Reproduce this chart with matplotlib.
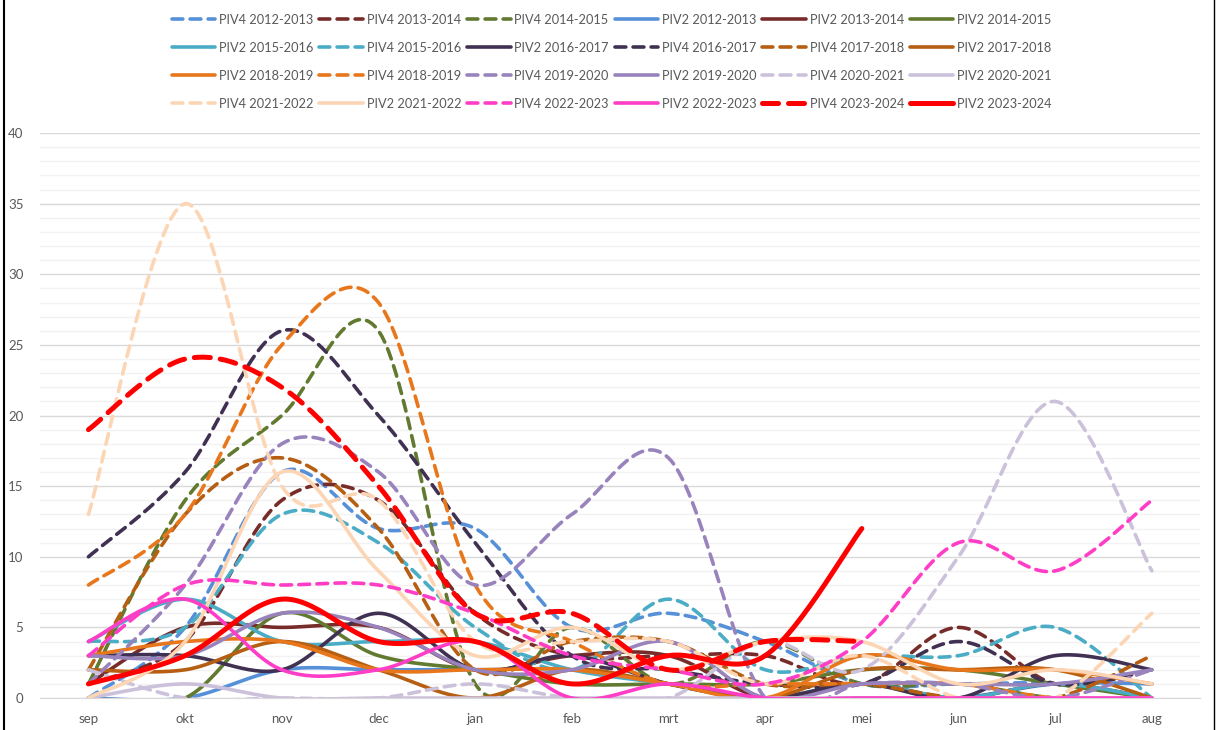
import numpy as np
import matplotlib
matplotlib.use('Agg')
import matplotlib.pyplot as plt
from matplotlib.lines import Line2D

plt.rcParams['font.family'] = ['Lato', 'DejaVu Sans']

months = ['sep', 'okt', 'nov', 'dec', 'jan', 'feb', 'mrt', 'apr', 'mei', 'jun', 'jul', 'aug']

# values, sep..aug
piv4_1213 = [0, 5, 16, 12, 12, 5, 6, 4, 1, 1, 1, 0]
piv4_1314 = [1, 4, 14, 14, 6, 3, 3, 3, 1, 5, 1, 2]
piv4_1415 = [1, 14, 20, 26, 1, 5, 1, 4, 1, 1, 0, 0]
piv2_1213 = [0, 0, 2, 2, 2, 2, 1, 0, 0, 0, 1, 1]
piv2_1314 = [1, 5, 5, 5, 2, 3, 3, 0, 1, 0, 1, 0]
piv2_1415 = [0, 0, 6, 3, 2, 1, 1, 1, 2, 2, 1, 0]
piv2_1516 = [4, 7, 4, 4, 4, 2, 1, 0, 1, 0, 1, 0]
piv4_1516 = [4, 5, 13, 11, 5, 2, 7, 2, 3, 3, 5, 0]
piv2_1617 = [3, 3, 2, 6, 2, 3, 1, 0, 1, 0, 3, 2]
piv4_1617 = [10, 16, 26, 20, 11, 3, 2, 1, 1, 4, 1, 2]
piv4_1718 = [2, 13, 17, 12, 2, 4, 4, 1, 1, 0, 0, 3]
piv2_1718 = [2, 2, 4, 2, 0, 2, 1, 0, 2, 2, 2, 0]
piv2_1819 = [3, 4, 4, 2, 2, 2, 1, 0, 3, 2, 2, 1]
piv4_1819 = [8, 13, 25, 28, 8, 4, 1, 1, 1, 1, 0, 0]
piv4_1920 = [1, 8, 18, 16, 8, 13, 17, 0, 1, 1, 0, 2]
piv2_1920 = [3, 3, 6, 5, 2, 2, 4, 0, 1, 1, 1, 2]
piv4_2021 = [2, 0, 0, 0, 1, 0, 0, 4, 2, 10, 21, 9]
piv2_2021 = [0, 1, 0, 0, 0, 0, 0, 0, 0, 0, 0, 0]
piv4_2122 = [13, 35, 15, 14, 4, 4, 4, 1, 3, 0, 0, 6]
piv2_2122 = [0, 4, 16, 9, 3, 5, 2, 4, 4, 1, 2, 1]
piv4_2223 = [3, 8, 8, 8, 6, 3, 2, 1, 4, 11, 9, 14]
piv2_2223 = [4, 7, 2, 2, 4, 0, 1, 0, 0, 0, 0, 0]
piv4_2324 = [19, 24, 22, 15, 6, 6, 2, 4, 4]
piv2_2324 = [1, 3, 7, 4, 4, 1, 3, 3, 12]

colors = {'2012-2013': '#5690D8', '2013-2014': '#772C2A', '2014-2015': '#617A30',
          '2015-2016': '#4BACC6', '2016-2017': '#403152', '2017-2018': '#B65E12',
          '2018-2019': '#E8761B', '2019-2020': '#9983BC', '2020-2021': '#CCC1DA',
          '2021-2022': '#FCD5B4', '2022-2023': '#FF3DC6', '2023-2024': '#FF0000'}

# legend / drawing order (row-major as in the reference)
series = [('PIV4 2012-2013', piv4_1213), ('PIV4 2013-2014', piv4_1314), ('PIV4 2014-2015', piv4_1415),
          ('PIV2 2012-2013', piv2_1213), ('PIV2 2013-2014', piv2_1314), ('PIV2 2014-2015', piv2_1415),
          ('PIV2 2015-2016', piv2_1516), ('PIV4 2015-2016', piv4_1516), ('PIV2 2016-2017', piv2_1617),
          ('PIV4 2016-2017', piv4_1617), ('PIV4 2017-2018', piv4_1718), ('PIV2 2017-2018', piv2_1718),
          ('PIV2 2018-2019', piv2_1819), ('PIV4 2018-2019', piv4_1819), ('PIV4 2019-2020', piv4_1920),
          ('PIV2 2019-2020', piv2_1920), ('PIV4 2020-2021', piv4_2021), ('PIV2 2020-2021', piv2_2021),
          ('PIV4 2021-2022', piv4_2122), ('PIV2 2021-2022', piv2_2122), ('PIV4 2022-2023', piv4_2223),
          ('PIV2 2022-2023', piv2_2223), ('PIV4 2023-2024', piv4_2324), ('PIV2 2023-2024', piv2_2324)]


def smooth(y, n=30):
    """Excel-like smoothed line: cubic Bezier with Catmull-Rom control points."""
    y = np.asarray(y, float); x = np.arange(len(y), dtype=float)
    P = np.column_stack([x, y]); m = len(P)
    out = [P[:1]]
    t = np.linspace(0, 1, n)[1:, None]
    for i in range(m - 1):
        p0 = P[max(i - 1, 0)]; p1 = P[i]; p2 = P[i + 1]; p3 = P[min(i + 2, m - 1)]
        c1 = p1 + (p2 - p0) / 6; c2 = p2 - (p3 - p1) / 6
        seg = (1 - t) ** 3 * p1 + 3 * (1 - t) ** 2 * t * c1 + 3 * (1 - t) * t ** 2 * c2 + t ** 3 * p2
        out.append(seg)
    S = np.vstack(out)
    return S[:, 0], S[:, 1]


fig = plt.figure(figsize=(12.16, 7.30), dpi=100)
ax = fig.add_axes([0.033, 0.0438, 0.954, 0.774])

handles = []
for name, vals in series:
    yr = name.split()[1]; c = colors[yr]
    big = yr == '2023-2024'
    lw = 3.6 if big else 2.6
    xs, ys = smooth(vals)
    if name.startswith('PIV4'):
        ls = (0, (3.2, 2.0)) if big else (0, (3.0, 2.0))
    else:
        ls = '-'
    ax.plot(xs, ys, color=c, lw=lw, ls=ls, solid_capstyle='round', dash_capstyle='round')
    handles.append(Line2D([], [], color=c, lw=lw, ls=ls, solid_capstyle='round', dash_capstyle='round', label=name))

ax.set_xlim(-0.5, 11.5); ax.set_ylim(0, 40)
ax.set_xticks(range(12)); ax.set_xticklabels(months)
ax.set_yticks(range(0, 41, 5))
ax.set_yticks(range(0, 41, 1), minor=True)
ax.grid(axis='y', which='major', color='#D9D9D9', lw=1.0)
ax.grid(axis='y', which='minor', color='#F2F2F2', lw=1.0)
ax.set_axisbelow(True)
for s in ['top', 'right', 'left']:
    ax.spines[s].set_visible(False)
ax.spines['bottom'].set_color('#D9D9D9')
ax.tick_params(axis='both', length=0, labelsize=9.5, colors='#595959')
ax.tick_params(axis='y', which='minor', length=0)
ax.tick_params(axis='x', pad=11)
ax.tick_params(axis='y', pad=12)

# reorder so matplotlib's column-major legend reads row-major
nrow, ncol = 4, 6
order = [handles[r * ncol + c] for c in range(ncol) for r in range(nrow)]
fig.legend(handles=order, loc='upper center', bbox_to_anchor=(0.503, 0.997), ncol=ncol, frameon=False,
           fontsize=9.2, labelcolor='#595959', handlelength=3.4, handletextpad=0.3, columnspacing=0.45,
           labelspacing=1.25)

# chart-area border on left and right
fig.add_artist(Line2D([0.003, 0.003], [0, 1], color='black', lw=1.5, transform=fig.transFigure))
fig.add_artist(Line2D([0.998, 0.998], [0, 1], color='black', lw=1.0, transform=fig.transFigure))

fig.savefig('out.png', dpi=100)
